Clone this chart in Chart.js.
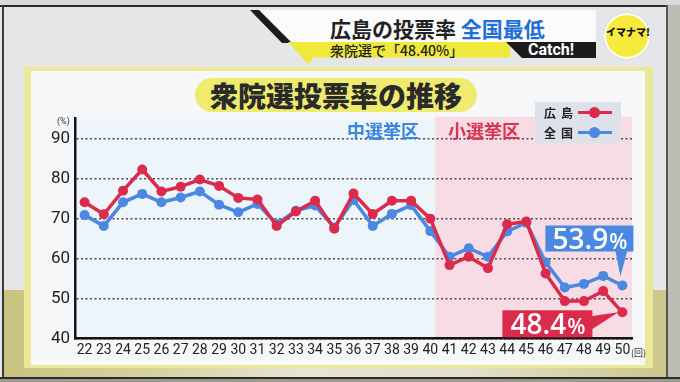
<!DOCTYPE html>
<html>
<head>
<meta charset="utf-8">
<script src="https://cdn.jsdelivr.net/npm/chart.js@4"></script>
<style>
  html, body { margin:0; padding:0; }
  body { width:680px; height:382px; overflow:hidden; position:relative; background:#e4e6e8; font-family:"Noto Sans CJK JP", "Noto Sans", sans-serif; }
  .abs { position:absolute; }
  #chart { position:absolute; left:0; top:0; width:680px; height:382px; z-index:5; }
  .jp { font-family:"Noto Sans CJK JP", sans-serif; white-space:nowrap; }
</style>
</head>
<body>
<!-- TV frame -->
<div class="abs" style="left:0;top:0;width:680px;height:5px;background:#d7d9db"></div>
<div class="abs" style="left:0;top:5px;width:680px;height:2px;background:#2b2b2b"></div>
<div class="abs" style="left:2px;top:5px;width:2px;height:374px;background:#3a3a3a"></div>
<div class="abs" style="left:667px;top:5px;width:13px;height:374px;background:#bcbcb4"></div>
<div class="abs" style="left:666px;top:5px;width:2px;height:374px;background:#555"></div>
<!-- lower olive area -->
<div class="abs" style="left:4px;top:290px;width:662px;height:88px;background:linear-gradient(90deg,#c9c37f 0%,#d8d4a2 25%,#e6e4d4 45%,#e2e0c8 70%,#cbc68a 100%)"></div>
<div class="abs" style="left:0;top:377px;width:680px;height:2px;background:#2b2b2b"></div>
<div class="abs" style="left:0;top:379px;width:680px;height:3px;background:#9a9a90"></div>
<!-- yellow frame + card -->
<div class="abs" style="left:24px;top:67px;width:629px;height:301px;background:#ece89a"></div>
<div class="abs" style="left:31px;top:71px;width:614px;height:294px;background:#f5f7f9"></div>

<!-- header -->
<div class="abs" style="left:250px;top:10px;width:346px;height:33px;background:#fbfbfb;clip-path:polygon(0 0,100% 0,100% 100%,38px 100%)"></div>
<div class="abs" style="left:250px;top:10px;width:42px;height:33px;background:#1c1c1c;clip-path:polygon(0 0,9px 0,42px 100%,32px 100%)"></div>
<div class="abs" style="left:288px;top:42px;width:222px;height:22px;background:#eee93a;clip-path:polygon(0 0,100% 0,100% 70%,26px 70%,20px 100%,14px 70%)"></div>
<div class="abs" style="left:506px;top:42px;width:90px;height:16px;background:#1a1a1a;clip-path:polygon(0 0,100% 0,100% 100%,16px 100%)"></div>
<div class="abs jp" style="left:330px;top:14px;font-size:21px;font-weight:700;color:#222;line-height:28px;">広島の投票率 <span style="color:#1f6fd6">全国最低</span></div>
<div class="abs jp" style="left:330px;top:42px;font-size:14px;font-weight:500;color:#222;line-height:16px;">衆院選で「48.40%」</div>
<div class="abs" style="left:528px;top:41px;font-family:'Roboto',sans-serif;font-size:16px;font-weight:700;color:#fff;line-height:18px;">Catch!</div>
<!-- logo -->
<div class="abs" style="left:604px;top:13px;width:42px;height:42px;border-radius:50%;background:#f6ea3c;border:2px solid #fff;box-shadow:0 0 1px #aaa"></div>
<div class="abs jp" style="left:605px;top:26px;width:46px;text-align:center;font-size:10px;font-weight:900;color:#111;line-height:12px;">イマナマ!</div>

<!-- chart title pill -->
<div class="abs jp" style="left:195px;top:78px;width:282px;height:34px;border-radius:17px;background:#efeb6e;text-align:center;font-size:28px;font-weight:900;color:#2a2a2a;line-height:34px;">衆院選投票率の推移</div>

<canvas id="chart" width="680" height="382"></canvas>

<!-- annotations -->
<div class="abs jp" style="left:347px;top:119px;z-index:6;font-size:18px;font-weight:700;color:#3a85de;line-height:22px;">中選挙区</div>
<div class="abs jp" style="left:448px;top:119px;z-index:6;font-size:18px;font-weight:700;color:#d9334f;line-height:22px;">小選挙区</div>
<!-- legend -->
<div class="abs" style="left:535px;top:102px;width:86px;height:41px;background:#dde1ea;z-index:6"></div>
<div class="abs jp" style="left:544px;top:105px;z-index:7;font-size:12px;font-weight:700;color:#222;letter-spacing:5px;line-height:15px;">広島</div>
<div class="abs jp" style="left:544px;top:125px;z-index:7;font-size:12px;font-weight:700;color:#222;letter-spacing:5px;line-height:15px;">全国</div>
<div class="abs" style="left:578px;top:111px;width:34px;height:3px;background:#dc2a4b;z-index:7"></div>
<div class="abs" style="left:589px;top:107px;width:11px;height:11px;border-radius:50%;background:#dc2a4b;z-index:7"></div>
<div class="abs" style="left:578px;top:131px;width:34px;height:3px;background:#4a88e2;z-index:7"></div>
<div class="abs" style="left:589px;top:127px;width:11px;height:11px;border-radius:50%;background:#4a88e2;z-index:7"></div>
<div class="abs" style="left:57px;top:116px;font-family:'Roboto',sans-serif;font-size:9px;color:#333;z-index:6">(%)</div>
<div class="abs jp" style="left:631px;top:346px;font-size:9px;color:#333;z-index:6">(回)</div>

<script>
const elections = ['22','23','24','25','26','27','28','29','30','31','32','33','34','35','36','37','38','39','40','41','42','43','44','45','46','47','48','49','50'];
const hiroshima = [74.1,71.1,77.0,82.3,76.8,78.0,79.8,78.2,75.2,74.8,68.2,71.8,74.5,67.5,76.3,71.2,74.5,74.5,70.0,58.4,60.5,57.6,68.6,69.3,56.3,49.4,49.4,51.9,46.6];
const national  = [70.9,68.2,74.1,76.2,74.1,75.3,76.8,73.5,71.6,73.7,68.7,72.0,73.3,67.8,74.7,68.2,71.2,73.4,66.9,60.5,62.6,60.5,66.8,69.0,59.1,52.8,53.7,55.7,53.3];
const yTicks = [40,50,60,70,80,90];
const hiroshimaLabel = ['48.4','%'];
const nationalLabel = ['53.9','%'];

const RED = '#dc2a4b', BLUE = '#4a88e2';

const bgPlugin = {
  id: 'bg',
  beforeDraw(chart) {
    const {ctx, chartArea: a, scales: {x}} = chart;
    ctx.save();
    ctx.fillStyle = '#edf5fa';
    ctx.fillRect(a.left, a.top, a.right - a.left, a.bottom - a.top);
    const x40 = x.getPixelForValue(18), x41 = x.getPixelForValue(19);
    const pl = x40 + (x41 - x40) * 0.25;
    ctx.fillStyle = '#f7dce5';
    ctx.fillRect(pl, a.top - 2, a.right - pl, a.bottom - a.top + 2);
    ctx.restore();
  }
};

function callout(ctx, label, color, box, tri) {
  ctx.save();
  ctx.fillStyle = color;
  ctx.fillRect(box.l, box.t, box.r - box.l, box.b - box.t);
  ctx.beginPath();
  ctx.moveTo(tri[0][0], tri[0][1]);
  ctx.lineTo(tri[1][0], tri[1][1]);
  ctx.lineTo(tri[2][0], tri[2][1]);
  ctx.closePath();
  ctx.fill();
  ctx.fillStyle = '#fff';
  ctx.textBaseline = 'alphabetic';
  const f1 = "600 28px 'Open Sans', sans-serif", f2 = "600 21px 'Open Sans', sans-serif";
  ctx.font = f1; const w1 = ctx.measureText(label[0]).width;
  ctx.font = f2; const w2 = ctx.measureText(label[1]).width;
  const sx = (box.l + box.r) / 2 - (w1 + w2) / 2;
  const by = box.b - 3;
  ctx.font = f1; ctx.fillText(label[0], sx, by);
  ctx.font = f2; ctx.fillText(label[1], sx + w1 + 1, by);
  ctx.restore();
}

const calloutPlugin = {
  id: 'callouts',
  afterDatasetsDraw(chart) {
    const ctx = chart.ctx;
    const n = elections.length - 1;
    const pr = chart.getDatasetMeta(0).data[n];
    const pb = chart.getDatasetMeta(1).data[n];
    callout(ctx, nationalLabel, BLUE,
      {l: pb.x - 77, r: pb.x + 11, t: pb.y - 60, b: pb.y - 34},
      [[pb.x - 7, pb.y - 35], [pb.x + 5, pb.y - 35], [pb.x - 2, pb.y - 9]]);
    callout(ctx, hiroshimaLabel, RED,
      {l: pr.x - 120, r: pr.x - 30, t: pr.y - 2, b: pr.y + 25},
      [[pr.x - 32, pr.y + 4], [pr.x - 32, pr.y + 18], [pr.x - 4, pr.y]]);
  }
};

new Chart(document.getElementById('chart'), {
  type: 'line',
  data: {
    labels: elections,
    datasets: [
      { label: '広島', data: hiroshima, borderColor: RED, backgroundColor: RED, borderWidth: 3.5,
        pointRadius: 5, pointBackgroundColor: RED, pointBorderWidth: 0, tension: 0 },
      { label: '全国', data: national, borderColor: BLUE, backgroundColor: BLUE, borderWidth: 3.5,
        pointRadius: 5, pointBackgroundColor: BLUE, pointBorderWidth: 0, tension: 0 }
    ]
  },
  options: {
    responsive: false,
    animation: false,
    events: [],
    layout: { padding: { left: 30, top: 118.7, right: 48, bottom: 18.3 } },
    plugins: { legend: { display: false }, tooltip: { enabled: false }, title: { display: false } },
    scales: {
      x: {
        type: 'category',
        offset: true,
        afterFit(s) { s.height = 25; },
        grid: { display: false, drawTicks: false },
        border: { display: true, color: '#151515', width: 2.5 },
        ticks: { color: '#222', font: { family: "'Liberation Sans Narrow', 'Roboto', sans-serif", size: 14 },
                 padding: 3, maxRotation: 0, autoSkip: false }
      },
      y: {
        min: 40, max: 95,
        afterFit(s) { s.width = 45; },
        afterBuildTicks(s) { s.ticks = yTicks.map(v => ({ value: v })); },
        grid: { color: '#4a4a4a', lineWidth: 1.5, drawTicks: false },
        border: { display: true, color: '#151515', width: 2.5, dash: [2, 2.5] },
        ticks: { color: '#222', font: { family: "'Roboto', sans-serif", size: 17 }, padding: 5 }
      }
    }
  },
  plugins: [bgPlugin, calloutPlugin]
});
</script>
</body>
</html>
